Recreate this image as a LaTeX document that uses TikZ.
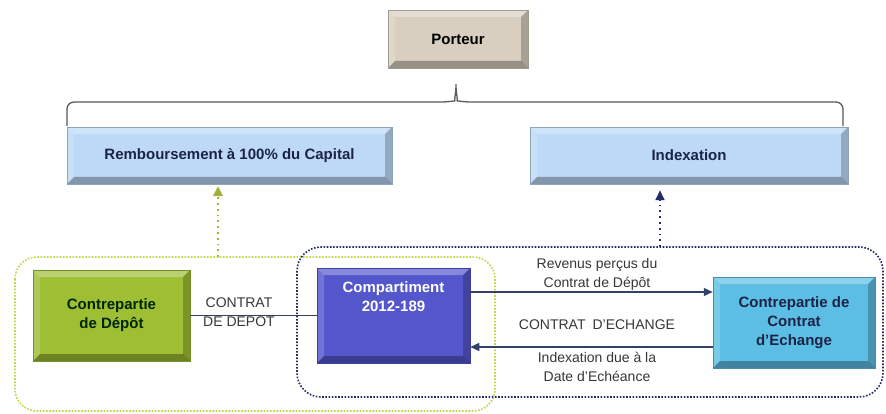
\documentclass[tikz,border=0pt]{standalone}
\usepackage{fontspec}
\setmainfont{Liberation Sans}
\usetikzlibrary{arrows.meta}

\definecolor{porteurcol}{RGB}{216,207,192}
\definecolor{lightblue}{RGB}{189,217,247}
\definecolor{depcol}{RGB}{158,190,52}
\definecolor{compcol}{RGB}{84,86,204}
\definecolor{echcol}{RGB}{92,190,228}
\definecolor{navy}{RGB}{28,36,70}
\definecolor{linecol}{RGB}{52,64,104}
\definecolor{greendot}{RGB}{196,210,70}
\definecolor{bluedot}{RGB}{36,44,104}
\definecolor{txtgray}{RGB}{55,55,55}

\tikzset{
    bevel/.style={path picture={
        \fill[white,opacity=.30] (path picture bounding box.north west) -- (path picture bounding box.north east)
            -- ([xshift=-7pt,yshift=-7pt]path picture bounding box.north east) -- ([xshift=7pt,yshift=-7pt]path picture bounding box.north west) -- cycle;
        \fill[white,opacity=.18] (path picture bounding box.north west) -- ([xshift=7pt,yshift=-7pt]path picture bounding box.north west)
            -- ([xshift=7pt,yshift=7pt]path picture bounding box.south west) -- (path picture bounding box.south west) -- cycle;
        \fill[black,opacity=.22] (path picture bounding box.north east) -- (path picture bounding box.south east)
            -- ([xshift=-7pt,yshift=7pt]path picture bounding box.south east) -- ([xshift=-7pt,yshift=-7pt]path picture bounding box.north east) -- cycle;
        \fill[black,opacity=.30] (path picture bounding box.south west) -- (path picture bounding box.south east)
            -- ([xshift=-7pt,yshift=7pt]path picture bounding box.south east) -- ([xshift=7pt,yshift=7pt]path picture bounding box.south west) -- cycle;
    }},
    box/.style={fill=#1, draw=#1!75!black, line width=.5pt, bevel, align=center,
        font=\bfseries\fontsize{15}{19}\selectfont, inner sep=2pt},
    lbl/.style={align=center, text=txtgray, font=\fontsize{14}{19}\selectfont},
    flow/.style={draw=linecol, line width=1.4pt, -{Triangle[length=9pt,width=8pt]}},
    brace/.style={draw=black!65, line width=1.3pt, rounded corners=7pt},
}

\begin{document}
\begin{tikzpicture}[x=1pt,y=-1pt]
    \useasboundingbox[fill=white] (0,0) rectangle (886,414);

    % groups
    \draw[greendot, line width=1.6pt, dash pattern=on 1.6pt off 1.6pt, rounded corners=22pt] (15,257) rectangle (495,411);
    \draw[bluedot, line width=1.6pt, dash pattern=on 1.6pt off 1.6pt, rounded corners=24pt] (297,247) rectangle (883,397);

    % top
    \node[box=porteurcol, text=black, minimum width=140pt, minimum height=58pt] (porteur) at (458,39) {Porteur};
    \draw[brace] (67,126) -- (67,102) -- (448,102) .. controls (454,101) and (456,92) .. (456,80)
        .. controls (456,92) and (458,101) .. (464,102) -- (843,102) -- (843,126);

    \node[box=lightblue, text=navy, minimum width=325pt, minimum height=57pt] (remb) at (229.5,155.5) {Remboursement à 100\% du Capital};
    \node[box=lightblue, text=navy, minimum width=318pt, minimum height=57pt] (idx) at (689,155.5) {Indexation};

    % bottom
    \node[box=depcol, text=black!85!green, minimum width=157pt, minimum height=91pt] (dep) at (111.5,315.5) {Contrepartie\\de Dépôt};
    \node[box=compcol, minimum width=153pt, minimum height=95pt] (comp) at (393.5,315.5) {};
    \node[anchor=north, text=white, align=center, font=\bfseries\fontsize{15}{19}\selectfont] (comptxt) at ([yshift=-10pt]comp.north) {Compartiment\\2012-189};
    \node[box=echcol, text=navy, minimum width=162pt, minimum height=91pt] (ech) at (794,322.5) {Contrepartie de\\Contrat\\d'Echange};

    \draw[linecol, line width=1.4pt] (dep.east) -- (comp.west);
    \node[lbl] (cdep) at (239,312) {CONTRAT\\DE DEPOT};

    \draw[flow] (comp.east |- 0,292) -- (ech.west |- 0,292);
    \draw[flow] (ech.west |- 0,347) -- (comp.east |- 0,347);
    \node[lbl] (rev) at (597,274) {Revenus perçus du\\Contrat de Dépôt};
    \node[lbl] (cech) at (597,325) {CONTRAT\enspace D'ECHANGE};
    \node[lbl] (idxdue) at (597,367) {Indexation due à la\\Date d'Echéance};

    % links up
    \coordinate (gtop) at (218,257);
    \coordinate (btop) at (660,247);
    \draw[draw=greendot!85!black, line width=1.8pt, dash pattern=on 1.8pt off 4pt, -{Triangle[length=10pt,width=10pt,fill=greendot!80!black]}, shorten >=2pt] (gtop) -- (gtop |- remb.south);
    \draw[draw=bluedot, line width=1.8pt, dash pattern=on 1.8pt off 4pt, -{Triangle[length=10pt,width=9pt]}, shorten >=6pt] (btop) -- (btop |- idx.south);
\end{tikzpicture}
\end{document}
